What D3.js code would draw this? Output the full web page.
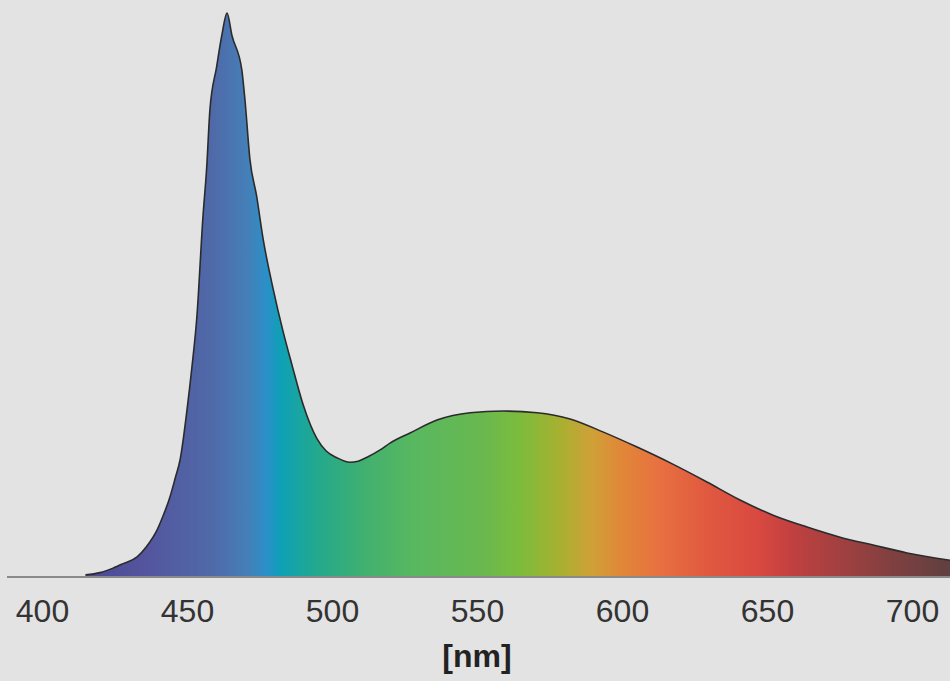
<!DOCTYPE html>
<html>
<head>
<meta charset="utf-8">
<script src="https://cdn.jsdelivr.net/npm/d3@7"></script>
<style>
  body { margin: 0; background: #e3e3e3; }
  svg { display: block; }
</style>
</head>
<body>
<script>
// wavelength samples [nm] and relative intensity (peak = 100)
const wavelengths = [415, 420, 424.5, 428, 432.8, 436, 439.7, 442, 444.1, 446, 447.6, 450, 451.7, 453.4, 455.5, 456.8, 457.9, 460.2, 462, 463.8, 465.5, 468.9, 470, 471.7, 474, 476.2, 479.7, 483.1, 486.2, 490, 494.8, 498, 501.7, 506.2, 509, 512.1, 516.6, 520, 526.9, 536.2, 547.6, 559, 570.7, 582.1, 593.4, 605.2, 617, 629.3, 640.7, 652.1, 663.8, 675.2, 686.6, 698.3, 713.1];
const intensity   = [0.2, 0.6, 1.4, 2.2, 3.4, 5.2, 8.2, 11, 14, 17.5, 20.6, 29.5, 37.1, 46, 63.8, 72.6, 82.8, 90.4, 96, 100, 96, 89.9, 84.5, 74, 67.5, 60, 51, 43.5, 37.5, 30.5, 24.4, 22.2, 21, 20.2, 20.4, 21.1, 22.4, 23.6, 25.4, 27.7, 29, 29.3, 29, 27.9, 25.6, 22.9, 20, 16.7, 13.5, 10.8, 8.7, 6.9, 5.5, 4.1, 2.8];

const tickLabels = [400, 450, 500, 550, 600, 650, 700];
const axisTitle = "[nm]";

// spectrum colours along the wavelength axis
const colorNm  = [415, 436, 459, 470.7, 477.6, 482, 493.4, 510.7, 528, 551, 564.8, 578.6, 590, 599.3, 613, 630.3, 647.6, 659, 676.2, 693.4, 713];
const colorHex = ["#4a4a94", "#54559e", "#4f6aa8", "#457fb8", "#2a90c8", "#0fa0b8", "#20a890", "#40b070", "#58b860", "#68b850", "#7cbc3c", "#a8b030", "#d0a038", "#e08838", "#e87040", "#e05840", "#d84840", "#c04040", "#a04040", "#804040", "#604040"];

const W = 950, H = 681;

const svg = d3.select("body").append("svg")
  .attr("width", W)
  .attr("height", H);

const x = d3.scaleLinear().domain([400, 700]).range([42, 912]);
const y = d3.scaleLinear().domain([0, 100]).range([576, 13]);

const data = wavelengths.map((w, i) => ({ w: w, v: intensity[i] }));

// horizontal rainbow gradient
const grad = svg.append("defs").append("linearGradient")
  .attr("id", "spec")
  .attr("gradientUnits", "userSpaceOnUse")
  .attr("x1", 0).attr("x2", W)
  .attr("y1", 0).attr("y2", 0);

grad.selectAll("stop")
  .data(colorNm)
  .enter().append("stop")
  .attr("offset", d => Math.max(0, Math.min(1, x(d) / W)))
  .attr("stop-color", (d, i) => colorHex[i]);

// baseline
svg.append("line")
  .attr("x1", 7).attr("x2", W)
  .attr("y1", y(0) + 1).attr("y2", y(0) + 1)
  .attr("stroke", "#8a8a8a")
  .attr("stroke-width", 2);

const area = d3.area()
  .x(d => x(d.w))
  .y0(y(0))
  .y1(d => y(d.v))
  .curve(d3.curveMonotoneX);

const line = d3.line()
  .x(d => x(d.w))
  .y(d => y(d.v))
  .curve(d3.curveMonotoneX);

svg.append("path")
  .datum(data)
  .attr("d", area)
  .attr("fill", "url(#spec)");

svg.append("path")
  .datum(data)
  .attr("d", line)
  .attr("fill", "none")
  .attr("stroke", "#2b2b2b")
  .attr("stroke-width", 1.6);

// x axis labels
const ax = svg.append("g")
  .attr("transform", "translate(0," + y(0) + ")")
  .call(d3.axisBottom(x).tickValues(tickLabels).tickSize(0).tickPadding(23).tickFormat(d3.format("d")));

ax.select(".domain").remove();
ax.selectAll("text")
  .attr("fill", "#333")
  .style("font-family", "'Liberation Sans', Arial, sans-serif")
  .style("font-size", "32px");

svg.append("text")
  .attr("x", 477)
  .attr("y", 667)
  .attr("text-anchor", "middle")
  .attr("fill", "#222")
  .style("font-family", "'Liberation Sans', Arial, sans-serif")
  .style("font-size", "32px")
  .style("font-weight", "bold")
  .text(axisTitle);
</script>
</body>
</html>
